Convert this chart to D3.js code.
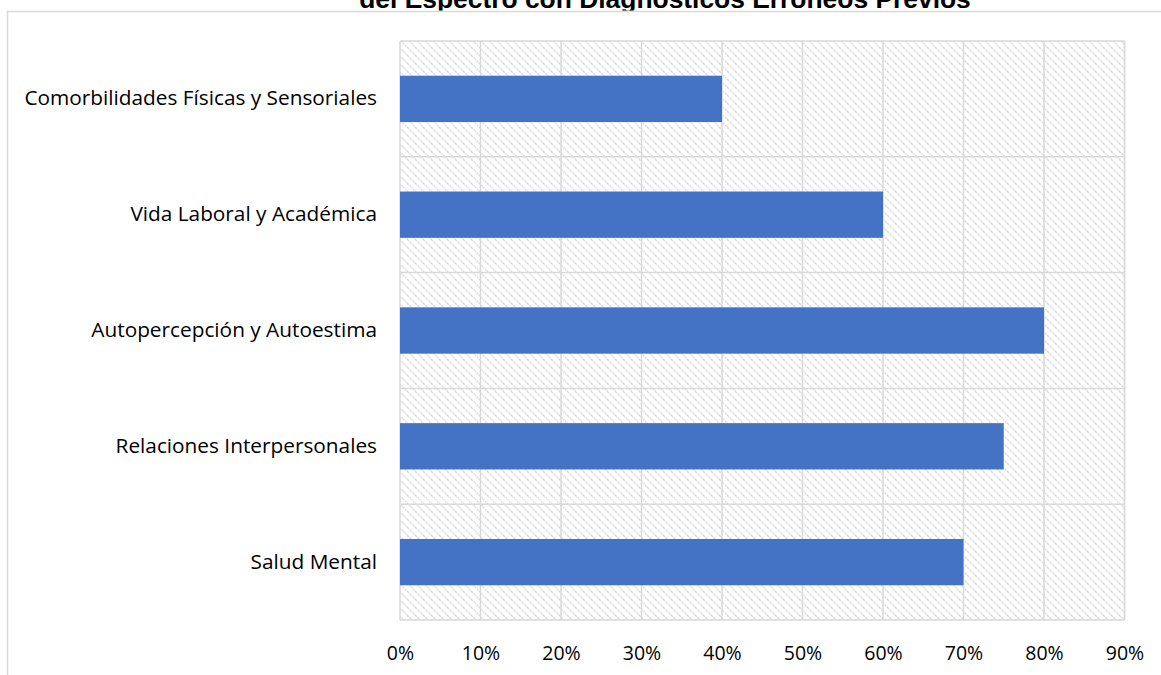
<!DOCTYPE html>
<html><head><meta charset="utf-8">
<script src="https://cdn.jsdelivr.net/npm/d3@7"></script>
<style>body{margin:0;background:#fff;}svg{display:block;}</style>
</head><body>
<svg id="chart" width="1161" height="675"></svg>
<script>
const categories = ["Comorbilidades Físicas y Sensoriales","Vida Laboral y Académica","Autopercepción y Autoestima","Relaciones Interpersonales","Salud Mental"];
const values = [0.40, 0.60, 0.80, 0.75, 0.70];
const tickValues = [0,0.1,0.2,0.3,0.4,0.5,0.6,0.7,0.8,0.9];
const titleText = "del Espectro con Diagnósticos Erróneos Previos";

const svg = d3.select("#chart");
const W = 1161, H = 675;
const m = {left: 400, right: 1161-1124.5, top: 41, bottom: 675-620};

const defs = svg.append("defs");
const pat = defs.append("pattern").attr("id","hatch").attr("patternUnits","userSpaceOnUse")
  .attr("width",8).attr("height",8);
pat.append("rect").attr("width",8).attr("height",8).attr("fill","#fff");
pat.append("path").attr("d","M-2,-2 L10,10 M-2,6 L2,10 M6,-2 L10,2").attr("stroke","#d6d6d6").attr("stroke-width",1.4).attr("stroke-dasharray","1.5,1");
defs.append("clipPath").attr("id","titleclip").append("rect").attr("x",0).attr("y",-50).attr("width",W).attr("height",60.5);

// outer chart border
svg.append("rect").attr("x",7.5).attr("y",11.5).attr("width",W+20).attr("height",H+20)
  .attr("fill","none").attr("stroke","#d9d9d9").attr("stroke-width",1.5);

svg.append("text").attr("x",665).attr("y",7.5).attr("text-anchor","middle")
  .attr("clip-path","url(#titleclip)")
  .attr("font-family","Liberation Sans, Arial, sans-serif").attr("font-weight","bold")
  .attr("font-size",26.4).attr("fill","#000").text(titleText);

const x = d3.scaleLinear().domain([0,0.9]).range([m.left, W-m.right]);
const y = d3.scaleBand().domain(categories).range([m.top, H-m.bottom]).paddingInner(0).paddingOuter(0);

// plot area hatch
svg.append("rect").attr("x",x(0)).attr("y",m.top).attr("width",x(0.9)-x(0)).attr("height",H-m.bottom-m.top)
  .attr("fill","url(#hatch)");

const grid = svg.append("g").attr("stroke","#d9d9d9").attr("stroke-width",1.5);
grid.selectAll("line.v").data(tickValues).join("line")
  .attr("x1",d=>x(d)).attr("x2",d=>x(d)).attr("y1",m.top).attr("y2",H-m.bottom);
const bounds = categories.map(c=>y(c)).concat([H-m.bottom]);
grid.selectAll("line.h").data(bounds).join("line").attr("class","h")
  .attr("x1",x(0)).attr("x2",x(0.9)).attr("y1",d=>d).attr("y2",d=>d);
grid.append("line").attr("x1",x(0.9)).attr("x2",x(0.9)).attr("y1",m.top).attr("y2",H-m.bottom);

const bh = y.bandwidth()/2.5;
svg.append("g").selectAll("rect").data(categories).join("rect")
  .attr("x",x(0)).attr("y",d=>y(d)+y.bandwidth()/2-bh/2)
  .attr("width",(d,i)=>x(values[i])-x(0)).attr("height",bh).attr("fill","#4472C4");

const lab = "'Open Sans', sans-serif";
svg.append("g").selectAll("text").data(categories).join("text")
  .attr("x",377).attr("y",d=>y(d)+y.bandwidth()/2+6.5)
  .attr("text-anchor","end").attr("font-family",lab).attr("font-size",20.8).attr("fill","#000").text(d=>d);

const xAxis = d3.axisBottom(x).tickValues(tickValues).tickFormat(d3.format(".0%")).tickSize(0).tickPadding(0);
const ax = svg.append("g").attr("transform",`translate(0,${H-m.bottom})`).call(xAxis);
ax.select(".domain").remove();
ax.selectAll("text").attr("y",40).attr("dy",0).attr("font-family",lab).attr("font-size",19.5).attr("fill","#000");
</script>
</body></html>
